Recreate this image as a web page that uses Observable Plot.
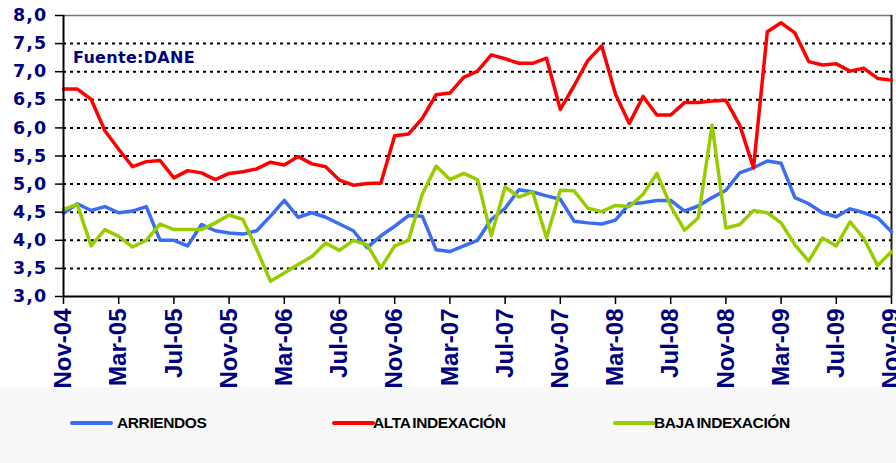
<!DOCTYPE html>
<html><head><meta charset="utf-8">
<script src="https://cdn.jsdelivr.net/npm/d3@7"></script>
<script src="https://cdn.jsdelivr.net/npm/@observablehq/plot@0.6"></script>
<style>
body{margin:0;background:#fff;}
#wrap{position:relative;width:896px;height:463px;overflow:hidden;background:#fff;}
#bottomband{position:absolute;left:0;top:387px;width:896px;height:76px;background:#f8f8f8;}
#chart{position:absolute;left:0;top:0;}
#fuente{position:absolute;left:73px;top:48px;font-family:"DejaVu Sans",sans-serif;font-weight:bold;font-size:16px;color:#000080;letter-spacing:0.3px;}
.leg{position:absolute;top:414px;height:18px;font-family:"Liberation Sans",Arial,sans-serif;font-weight:bold;font-size:15.5px;color:#000;letter-spacing:-0.4px;word-spacing:-1.5px;line-height:18px;}
.leg span.sw{position:absolute;top:7px;height:4px;width:43px;border-radius:2px;}
.leg span.tx{position:absolute;white-space:nowrap;}
</style></head><body>
<div id="wrap"><div id="bottomband"></div><div id="chart"></div><div id="fuente">Fuente:DANE</div><div id="legend"></div></div>
<script>
const seriesNames = ["ARRIENDOS", "ALTA INDEXACIÓN", "BAJA INDEXACIÓN"];
const seriesColors = ["#3a6cf4", "#ff0000", "#99cc00"];
const tickLabels = ["Nov-04","Mar-05","Jul-05","Nov-05","Mar-06","Jul-06","Nov-06","Mar-07","Jul-07","Nov-07","Mar-08","Jul-08","Nov-08","Mar-09","Jul-09","Nov-09"];
const tickPositions = [0,4,8,12,16,20,24,28,32,36,40,44,48,52,56,60];
const yTicks = [3,3.5,4,4.5,5,5.5,6,6.5,7,7.5,8];
const arriendos = [4.48,4.65,4.53,4.60,4.49,4.52,4.60,4.00,4.00,3.90,4.28,4.17,4.13,4.11,4.17,4.43,4.71,4.41,4.49,4.41,4.29,4.17,3.87,4.08,4.25,4.44,4.43,3.83,3.80,3.90,4.00,4.37,4.57,4.90,4.86,4.79,4.73,4.34,4.31,4.29,4.36,4.65,4.67,4.71,4.71,4.52,4.61,4.76,4.89,5.20,5.29,5.41,5.37,4.76,4.65,4.49,4.42,4.56,4.49,4.40,4.15];
const alta = [6.69,6.69,6.51,5.95,5.62,5.31,5.40,5.42,5.11,5.24,5.20,5.08,5.19,5.22,5.27,5.39,5.34,5.49,5.36,5.31,5.07,4.98,5.01,5.02,5.86,5.89,6.17,6.59,6.62,6.90,7.01,7.30,7.23,7.15,7.15,7.24,6.33,6.75,7.20,7.46,6.60,6.08,6.56,6.23,6.23,6.45,6.45,6.48,6.49,6.05,5.29,7.71,7.87,7.69,7.18,7.12,7.14,7.01,7.06,6.88,6.85];
const baja = [4.55,4.64,3.90,4.19,4.07,3.88,4.00,4.29,4.19,4.19,4.19,4.31,4.45,4.37,3.84,3.27,3.42,3.57,3.71,3.95,3.82,4.00,3.92,3.51,3.90,4.00,4.82,5.32,5.08,5.19,5.08,4.08,4.95,4.77,4.86,4.04,4.89,4.88,4.57,4.51,4.62,4.60,4.82,5.19,4.61,4.18,4.40,6.05,4.22,4.28,4.53,4.49,4.31,3.92,3.63,4.04,3.90,4.33,4.03,3.55,3.80];

const rows = [];
[arriendos, alta, baja].forEach((arr, k) => arr.forEach((v, i) => rows.push({i, v, s: seriesNames[k]})));

const chart = Plot.plot({
  width: 896, height: 400,
  marginTop: 15, marginLeft: 63, marginRight: 5, marginBottom: 104,
  style: {background: "transparent", overflow: "visible"},
  x: {domain: [0, 60]},
  y: {domain: [3, 8]},
  color: {domain: seriesNames, range: seriesColors},
  marks: [
    Plot.frame({fill: "white", stroke: null}),
    Plot.ruleY(yTicks.filter(d => d > 3 && d < 8), {stroke: "#000", strokeWidth: 2, strokeDasharray: "3,4"}),
    Plot.ruleY([8], {stroke: "#777", strokeWidth: 1.5}),
    Plot.ruleX([60], {stroke: "#222", strokeWidth: 2}),
    Plot.line(rows, {x: "i", y: "v", z: "s", stroke: "s", strokeWidth: 3.5, strokeLinejoin: "round", strokeLinecap: "round"}),
    Plot.axisY({ticks: yTicks, tickSize: 8, tickPadding: 8, tickFormat: d => d.toFixed(1).replace(".", ","),
      fontSize: 17.5, fontWeight: "bold", fontFamily: "DejaVu Sans", fill: "#000080", stroke: "#000", strokeWidth: 1.5, label: null}),
    Plot.axisX({ticks: tickPositions, tickSize: 8, tickPadding: 4, tickRotate: -90, tickFormat: d => tickLabels[tickPositions.indexOf(d)],
      fontSize: 24, fontWeight: "bold", fontFamily: "Liberation Sans", fill: "#000080", stroke: "#000", strokeWidth: 1.5, label: null}),
    Plot.ruleX([0], {stroke: "#000", strokeWidth: 2}),
    Plot.ruleY([3], {stroke: "#000", strokeWidth: 2})
  ]
});
document.getElementById("chart").appendChild(chart);
d3.select(chart).selectAll('[aria-label="y-axis tick label"] text').style("letter-spacing", "1.2px");

const legPos = [[70, 117], [332, 373], [613, 654]];
const leg = document.getElementById("legend");
seriesNames.forEach((n, k) => {
  const d = document.createElement("div");
  d.className = "leg";
  d.style.left = "0px";
  d.innerHTML = `<span class="sw" style="left:${legPos[k][0]}px;background:${seriesColors[k]}"></span><span class="tx" style="left:${legPos[k][1]}px">${n}</span>`;
  leg.appendChild(d);
});
</script>
</body></html>
